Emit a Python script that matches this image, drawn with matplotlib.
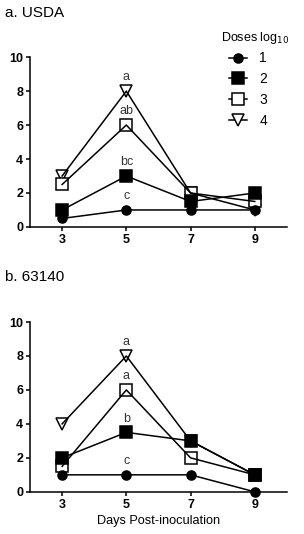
import matplotlib
matplotlib.use('Agg')
import matplotlib.pyplot as plt
from matplotlib.lines import Line2D

plt.rcParams['font.family'] = ['Liberation Sans', 'DejaVu Sans']

days = [3, 5, 7, 9]
doses = ['1', '2', '3', '4']

# panel a, USDA
usda_1 = [0.5, 1, 1, 1]
usda_2 = [1, 3, 1.5, 2]
usda_3 = [2.5, 6, 2, 1.5]
usda_4 = [3, 8, 2, 1]
usda_letters = ['a', 'ab', 'bc', 'c']
usda_letter_y = [8, 6, 3, 1]

# panel b, 63140
s63140_1 = [1, 1, 1, 0]
s63140_2 = [2, 3.5, 3, 1]
s63140_3 = [1.5, 6, 2, 1]
s63140_4 = [4, 8, 3, 1]
s63140_letters = ['a', 'a', 'b', 'c']
s63140_letter_y = [8, 6, 3.5, 1]

styles = [
    dict(marker='o', ms=6.5, mfc='black'),
    dict(marker='s', ms=8, mfc='black'),
    dict(marker='s', ms=8.5, mfc='white'),
    dict(marker='v', ms=9, mfc='white'),
]

fig = plt.figure(figsize=(3.04, 5.34), dpi=100)
ax_a = fig.add_axes([0.0987, 0.575, 0.845, 0.318])
ax_b = fig.add_axes([0.0987, 0.079, 0.845, 0.318])


def draw(ax, series, letters, letter_y):
    # dose 4 first so the filled markers end up on top
    for vals, st in list(zip(series, styles))[::-1]:
        ax.plot(days, vals, linestyle='none', mec='black', mew=1.1,
                zorder=3, clip_on=False, **st)
        ax.plot(days, vals, color='black', lw=1.1, zorder=4, clip_on=False)
    for lab, yy in zip(letters, letter_y):
        ax.text(5, yy + 0.45, lab, ha='center', va='bottom', fontsize=9,
                color='#333333')
    ax.set_xlim(2, 10)
    ax.set_ylim(0, 10)
    ax.set_xticks(days)
    ax.set_yticks([0, 2, 4, 6, 8, 10])
    for s in ['top', 'right']:
        ax.spines[s].set_visible(False)
    for s in ['left', 'bottom']:
        ax.spines[s].set_linewidth(1.1)
    ax.tick_params(length=3, width=1.1, pad=2, labelsize=9)
    for t in ax.get_xticklabels() + ax.get_yticklabels():
        t.set_fontweight('bold')


draw(ax_a, [usda_1, usda_2, usda_3, usda_4], usda_letters, usda_letter_y)
draw(ax_b, [s63140_1, s63140_2, s63140_3, s63140_4], s63140_letters, s63140_letter_y)

handles = [Line2D([], [], color='black', lw=1.1, mec='black', mew=1.1, **st)
           for st in styles]
fig.legend(handles, doses, loc='upper left',
           bbox_to_anchor=(0.72, 0.922), frameon=False, fontsize=10,
           handlelength=1.3, labelspacing=0.5,
           handletextpad=0.9, borderpad=0.2)
fig.text(0.728, 0.929, 'Doses log$_{10}$', fontsize=9, va='center', ha='left')

fig.text(0.015, 0.975, 'a. USDA', fontsize=11, va='center', ha='left')
fig.text(0.015, 0.482, 'b. 63140', fontsize=11, va='center', ha='left')
ax_b.set_xlabel('Days Post-inoculation', fontsize=9.2, labelpad=3)

fig.savefig('out.png', dpi=100)
